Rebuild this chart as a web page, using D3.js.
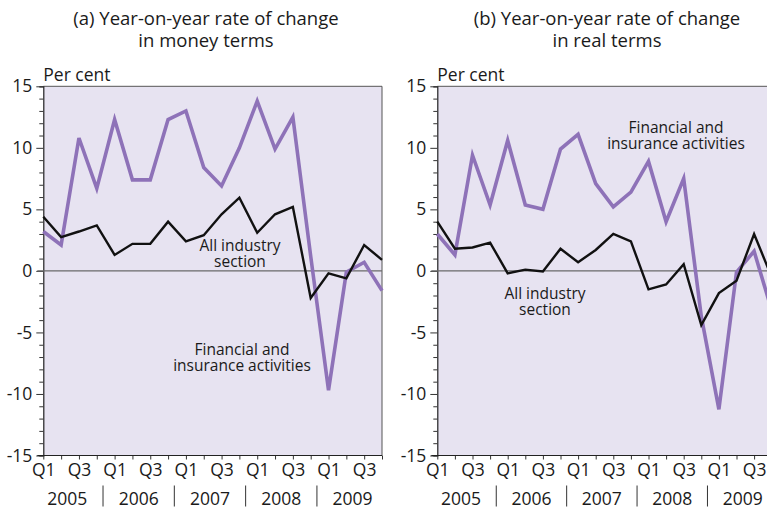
<!DOCTYPE html>
<html><head><meta charset="utf-8">
<script src="https://cdn.jsdelivr.net/npm/d3@7"></script>
<style>body{margin:0;background:#fff}svg{display:block}</style>
</head><body>
<svg id="c" width="767" height="508"></svg>
<script>
const quarters = ["Q1","Q2","Q3","Q4","Q1","Q2","Q3","Q4","Q1","Q2","Q3","Q4","Q1","Q2","Q3","Q4","Q1","Q2","Q3","Q4"];
const years = ["2005","2006","2007","2008","2009"];
const yTicks = [15,10,5,0,-5,-10,-15];
// (a) money terms
const moneyFinancial = [3.2,2.1,10.8,6.7,12.3,7.4,7.4,12.3,13.0,8.4,6.9,10.0,13.8,9.9,12.5,1.2,-9.7,-0.1,0.7,-1.6];
const moneyAllIndustry = [4.4,2.75,3.2,3.7,1.3,2.2,2.2,4.0,2.4,2.9,4.6,5.95,3.1,4.6,5.2,-2.2,-0.2,-0.6,2.1,0.9];
// (b) real terms
const realFinancial = [3.0,1.3,9.4,5.35,10.6,5.35,5.0,9.9,11.1,7.1,5.2,6.4,8.9,4.0,7.5,-3.7,-11.25,-0.1,1.6,-3.2];
const realAllIndustry = [4.0,1.8,1.9,2.3,-0.2,0.1,-0.05,1.8,0.7,1.7,3.0,2.4,-1.5,-1.1,0.55,-4.4,-1.8,-0.8,3.0,-0.5];

const FONT = "'Open Sans', 'Noto Sans', sans-serif";
const BG = "#e7e3f1", PURPLE = "#8e72b8", TXT = "#1a1a1a";
const svg = d3.select("#c");

const panels = [
  {title:["(a) Year-on-year rate of change","in money terms"], tx:206, x0:43.3, x1:382, fin:moneyFinancial, all:moneyAllIndustry,
   finLab:{x:242,y:350}, allLab:{x:240,y:246}},
  {title:["(b) Year-on-year rate of change","in real terms"], tx:607, x0:437.3, x1:771.7, fin:realFinancial, all:realAllIndustry,
   finLab:{x:676,y:128}, allLab:{x:545,y:294}}
];
const yTop = 86.3, yBot = 455.5;

panels.forEach(p => {
  const g = svg.append("g");
  const x = d3.scaleLinear().domain([0, quarters.length-1]).range([p.x0, p.x1]);
  const y = d3.scaleLinear().domain([-15, 15]).range([yBot, yTop]);

  g.append("rect").attr("x", p.x0).attr("y", yTop).attr("width", p.x1-p.x0).attr("height", yBot-yTop).attr("fill", BG);
  g.append("path").attr("d", `M${p.x0},${yTop}H${p.x1}V${yBot}`).attr("fill","none").attr("stroke","#555").attr("stroke-width",1);

  p.title.forEach((t,i) => g.append("text").attr("x", p.tx).attr("y", 25 + i*22).attr("text-anchor","middle")
     .attr("font-family", FONT).attr("font-size", 18.5).attr("fill", TXT).text(t));
  g.append("text").attr("x", p.x0).attr("y", 81).attr("font-family", FONT).attr("font-size", 17.5).attr("fill", TXT).text("Per cent");

  const ya = d3.axisLeft(y).tickValues(d3.range(-15,16,1)).tickSize(4).tickFormat(d => yTicks.includes(d) ? d : "").tickPadding(9);
  const yg = g.append("g").attr("transform", `translate(${p.x0},0)`).call(ya);
  yg.select(".domain").attr("stroke","#222").attr("stroke-width",1.2);
  yg.selectAll(".tick line").attr("stroke","#333").attr("x2", d => (d%5===0) ? -7 : -4);
  yg.selectAll(".tick text").attr("font-family", FONT).attr("font-size", 17.5).attr("fill", TXT).attr("x", -11);

  g.append("line").attr("x1", p.x0-6).attr("x2", p.x1).attr("y1", y(0)).attr("y2", y(0)).attr("stroke", "#6a6a6a").attr("stroke-width", 1.4);

  const xa = d3.axisBottom(x).tickValues(d3.range(0, quarters.length)).tickSize(4)
     .tickFormat(i => (quarters[i]==="Q1"||quarters[i]==="Q3") ? quarters[i] : "").tickPadding(4);
  const xg = g.append("g").attr("transform", `translate(0,${yBot})`).call(xa);
  xg.select(".domain").remove();
  g.append("line").attr("x1", p.x0-6).attr("x2", p.x1).attr("y1", yBot).attr("y2", yBot).attr("stroke","#222").attr("stroke-width",1.2);
  xg.selectAll(".tick line").attr("stroke","#333");
  xg.selectAll(".tick text").attr("font-family", FONT).attr("font-size", 17.5).attr("fill", TXT);

  years.forEach((yr, k) => {
    g.append("text").attr("x", x(1.35 + 4*k)).attr("y", yBot + 49).attr("text-anchor","middle")
      .attr("font-family", FONT).attr("font-size", 17.5).attr("fill", TXT).text(yr);
    if (k < years.length-1)
      g.append("line").attr("x1", x(3.35+4*k)).attr("x2", x(3.35+4*k)).attr("y1", yBot+30).attr("y2", yBot+51)
        .attr("stroke","#333").attr("stroke-width",1);
  });

  const line = d3.line().x((d,i) => x(i)).y(d => y(d));
  g.append("path").datum(p.fin).attr("d", line).attr("fill","none").attr("stroke", PURPLE).attr("stroke-width", 3.6);
  g.append("path").datum(p.all).attr("d", line).attr("fill","none").attr("stroke", "#111").attr("stroke-width", 2.4);

  const lab = (pos, lines) => lines.forEach((t,i) => g.append("text").attr("x", pos.x).attr("y", pos.y + i*16 + 5)
     .attr("text-anchor","middle").attr("font-family", FONT).attr("font-size", 15.5).attr("fill", TXT).text(t));
  lab(p.finLab, ["Financial and","insurance activities"]);
  lab(p.allLab, ["All industry","section"]);
});
</script>
</body></html>
